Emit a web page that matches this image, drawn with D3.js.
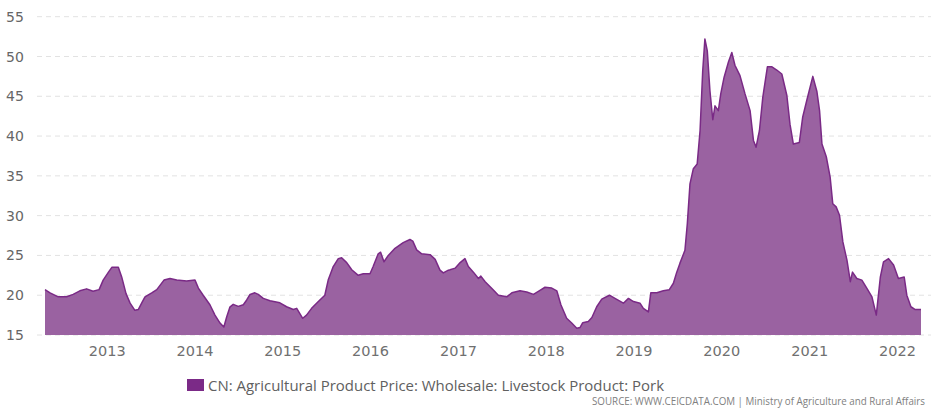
<!DOCTYPE html>
<html>
<head>
<meta charset="utf-8">
<script src="https://cdn.jsdelivr.net/npm/d3@7/dist/d3.min.js"></script>
<style>
html,body{margin:0;padding:0;background:#fff;}
svg{display:block;}
</style>
</head>
<body>
<svg id="chart" width="936" height="409"></svg>
<script>
const dates = ["2012-04-17","2012-05-08","2012-06-11","2012-07-16","2012-08-12","2012-09-09","2012-10-07","2012-11-03","2012-11-28","2012-12-15",
"2013-01-06","2013-01-20","2013-02-16","2013-03-02","2013-03-20","2013-04-06","2013-04-26","2013-05-10","2013-05-24","2013-06-07","2013-07-05","2013-07-26","2013-08-25","2013-09-19","2013-10-17","2013-11-27",
"2014-01-01","2014-01-15","2014-02-04","2014-03-04","2014-03-25","2014-04-15","2014-05-01","2014-05-13","2014-05-26","2014-06-09","2014-06-30","2014-07-21","2014-08-04","2014-08-18","2014-09-07","2014-09-21","2014-10-12","2014-11-09","2014-12-20",
"2015-01-17","2015-02-14","2015-02-28","2015-03-25","2015-04-10","2015-05-01","2015-05-29","2015-06-25","2015-07-09","2015-07-30","2015-08-20","2015-09-03","2015-09-24","2015-10-15","2015-11-11","2015-12-02","2015-12-30",
"2016-01-12","2016-02-02","2016-02-12","2016-02-26","2016-03-15","2016-04-12","2016-05-16","2016-06-13","2016-06-25","2016-07-11","2016-08-01","2016-09-05","2016-09-26","2016-10-16","2016-10-30","2016-11-20","2016-11-27","2016-12-18",
"2017-01-08","2017-01-28","2017-02-11","2017-03-04","2017-03-25","2017-04-04","2017-04-22","2017-05-20","2017-06-16","2017-07-21","2017-08-11","2017-09-14","2017-10-12","2017-11-09","2017-12-06","2017-12-27",
"2018-01-24","2018-02-14","2018-03-03","2018-03-27","2018-04-17","2018-05-08","2018-05-22","2018-06-02","2018-06-25","2018-07-10","2018-07-30","2018-08-20","2018-09-21","2018-10-14","2018-11-18","2018-12-09","2018-12-30",
"2019-01-26","2019-02-09","2019-03-02","2019-03-12","2019-04-06","2019-05-03","2019-05-28","2019-06-14","2019-06-28","2019-07-11","2019-08-01","2019-08-11","2019-08-22","2019-09-05","2019-09-21","2019-10-03","2019-10-14","2019-10-23","2019-11-02","2019-11-13","2019-11-25","2019-12-04","2019-12-18","2019-12-28",
"2020-01-11","2020-01-29","2020-02-12","2020-02-25","2020-03-17","2020-04-07","2020-04-28","2020-05-12","2020-05-23","2020-06-06","2020-06-20","2020-07-09","2020-07-28","2020-08-17","2020-09-07","2020-09-28","2020-10-11","2020-10-25","2020-11-19","2020-12-03","2020-12-20",
"2021-01-14","2021-01-31","2021-02-11","2021-02-21","2021-03-11","2021-03-27","2021-04-07","2021-04-21","2021-05-05","2021-05-19","2021-06-05","2021-06-19","2021-06-28","2021-07-16","2021-08-06","2021-08-27","2021-09-17","2021-10-05","2021-10-22","2021-11-04","2021-11-25","2021-12-16",
"2022-01-05","2022-01-29","2022-02-09","2022-02-26","2022-03-16","2022-04-09"];
const porkPrice = [20.7,20.3,19.8,19.8,20.1,20.55,20.8,20.5,20.7,21.9,
22.9,23.5,23.5,22.3,20.2,19.0,18.1,18.2,19.0,19.8,20.3,20.7,21.9,22.1,21.9,21.8,
21.9,20.9,20.0,18.8,17.5,16.5,16.0,17.3,18.5,18.85,18.6,18.8,19.4,20.1,20.3,20.1,19.6,19.3,19.05,
18.55,18.2,18.35,17.1,17.5,18.35,19.2,20.0,21.9,23.6,24.6,24.7,24.1,23.2,22.5,22.7,22.7,
23.6,25.2,25.4,24.2,25.0,25.9,26.6,27.0,26.8,25.7,25.2,25.1,24.5,23.15,22.8,23.15,23.2,23.4,
24.1,24.6,23.6,22.9,22.1,22.4,21.7,20.85,20.0,19.8,20.3,20.55,20.4,20.1,20.6,21.0,
20.9,20.55,18.8,17.1,16.5,15.85,15.95,16.55,16.7,17.2,18.55,19.5,20.0,19.6,19.0,19.6,19.2,
19.0,18.35,17.9,20.3,20.3,20.55,20.7,21.5,22.9,24.0,25.65,29.0,34.0,35.9,36.5,40.7,48.2,52.2,50.7,45.7,42.05,43.8,43.2,45.3,
47.4,49.3,50.5,48.9,47.6,45.3,43.2,39.45,38.6,40.7,44.9,48.7,48.7,48.3,47.8,45.1,41.5,39.0,39.2,42.4,44.5,
47.5,45.6,43.2,39.0,37.4,34.85,31.5,31.1,30.05,26.7,24.4,21.7,22.9,22.1,21.9,20.85,19.8,17.5,22.3,24.2,24.6,23.8,
22.1,22.3,20.0,18.55,18.2,18.2];
const yTicks = [15,20,25,30,35,40,45,50,55];
const xTickYears = [2013,2014,2015,2016,2017,2018,2019,2020,2021,2022];
const seriesName = "CN: Agricultural Product Price: Wholesale: Livestock Product: Pork";
const sourceText = "SOURCE: WWW.CEICDATA.COM | Ministry of Agriculture and Rural Affairs";

const parse = d3.timeParse("%Y-%m-%d");
const data = dates.map((d,i)=>({date:parse(d), value:porkPrice[i]}));

const svg = d3.select("#chart");
const x = d3.scaleTime().domain(d3.extent(data,d=>d.date)).range([45,921]);
const y = d3.scaleLinear().domain([15,55]).range([335,16.7]);

const font = "'DejaVu Sans', Verdana, sans-serif";

// grid
svg.append("g").selectAll("line").data(yTicks).join("line")
  .attr("x1",37).attr("x2",931)
  .attr("y1",d=>y(d)).attr("y2",d=>y(d))
  .attr("stroke","#e2e2e2").attr("stroke-width",1)
  .attr("stroke-dasharray","5,4");

// y labels
svg.append("g").selectAll("text").data(yTicks).join("text")
  .attr("x",6).attr("y",d=>y(d)).attr("dy","0.36em")
  .attr("font-family",font).attr("font-size","14px").attr("fill","#666")
  .text(d=>d);

// area
const area = d3.area().x(d=>x(d.date)).y0(y(15)).y1(d=>y(d.value));
svg.append("path").datum(data).attr("d",area).attr("fill","#9a62a1");
const line = d3.line().x(d=>x(d.date)).y(d=>y(d.value));
svg.append("path").datum(data).attr("d",line).attr("fill","none")
  .attr("stroke","#7a2a86").attr("stroke-width",1.5).attr("stroke-linejoin","round");

// x labels
svg.append("g").selectAll("text").data(xTickYears).join("text")
  .attr("x",d=>x(new Date(d,0,1))).attr("y",355.5)
  .attr("text-anchor","middle")
  .attr("font-family",font).attr("font-size","14.5px").attr("fill","#707070")
  .text(d=>d);

// legend
svg.append("rect").attr("x",187).attr("y",379).attr("width",17).attr("height",12).attr("fill","#7b2a87");
svg.append("text").attr("x",208).attr("y",390.5)
  .attr("font-family","'Open Sans', sans-serif").attr("font-size","15px").attr("fill","#606060")
  .attr("textLength",456).attr("lengthAdjust","spacingAndGlyphs")
  .text(seriesName);

// source
svg.append("text").attr("x",592).attr("y",404.5)
  .attr("font-family","'Open Sans', sans-serif").attr("font-size","10px").attr("fill","#808080")
  .attr("textLength",333).attr("lengthAdjust","spacingAndGlyphs")
  .text(sourceText);
</script>
</body>
</html>
